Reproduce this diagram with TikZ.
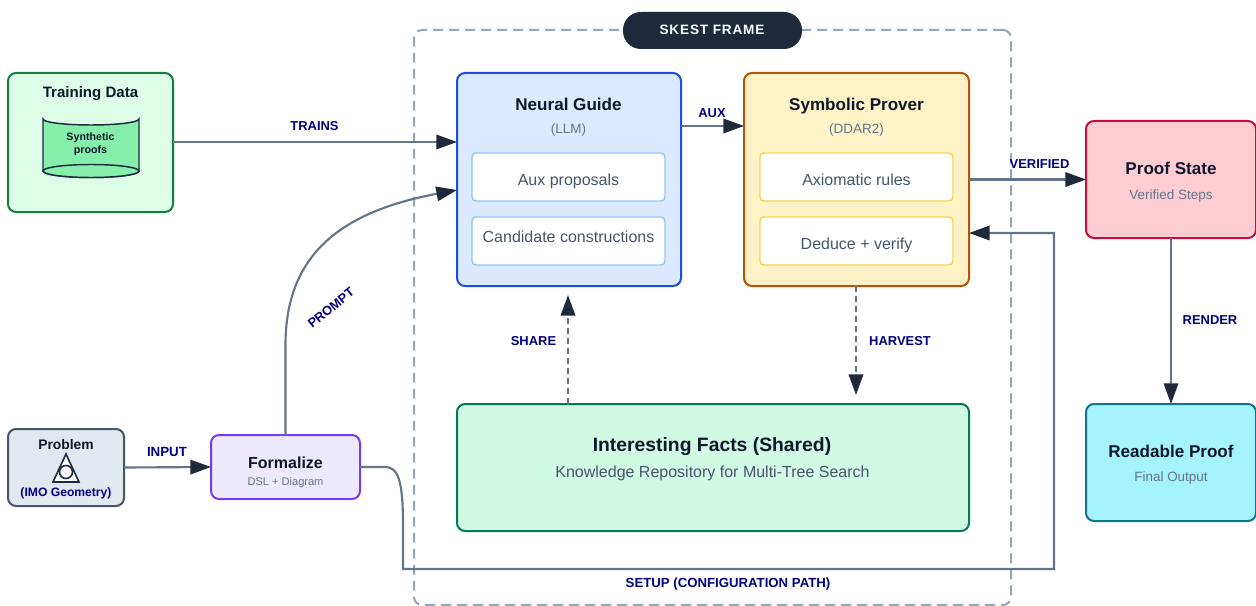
\documentclass[tikz,border=0pt]{standalone}
\usepackage{fontspec}
\setmainfont{Liberation Sans}
\newfontfamily\spacedfont[LetterSpace=6]{Liberation Sans}
\usetikzlibrary{arrows.meta,calc}
\def\pxu{0.75pt}
\definecolor{ink}{HTML}{0F172A}
\definecolor{sub}{HTML}{64748B}
\definecolor{body}{HTML}{475569}
\definecolor{navy}{HTML}{000080}
\definecolor{wire}{HTML}{64748B}
\definecolor{tipc}{HTML}{1E293B}
\definecolor{framec}{HTML}{94A3B8}
\tikzset{
  x=0.75pt,y=-0.75pt,
  box/.style={draw,line width=1.5pt,rounded corners=6pt,inner sep=0pt,outer sep=0pt,anchor=center},
  inner box/.style={draw,line width=1.1pt,rounded corners=3pt,fill=white,inner sep=0pt,outer sep=0pt,minimum width=193*\pxu,minimum height=48*\pxu},
  wire line/.style={draw=wire,line width=1.6pt,-{Triangle[length=15.5pt,width=10.8pt,color=tipc,fill=tipc]}},
  dashed wire/.style={wire line,line width=1.9pt,dash pattern=on 4.5pt off 3pt},
  txt/.style={inner sep=0pt,text height=0.72em,text depth=0.18em,yshift=-1.2pt},
  title big/.style={txt,font=\fontsize{14.5pt}{17pt}\selectfont\bfseries,text=ink},
  title/.style={txt,font=\fontsize{12.8pt}{15pt}\selectfont\bfseries,text=ink},
  subt/.style={txt,font=\fontsize{10.1pt}{11pt}\selectfont,text=sub},
  item/.style={txt,font=\fontsize{12pt}{13pt}\selectfont,text=body},
  lbl/.style={txt,font=\fontsize{9.7pt}{11pt}\selectfont\bfseries,text=navy},
}
\begin{document}
\begin{tikzpicture}
\useasboundingbox (0,0) rectangle (1256,606);
% frame
\node[box,draw=framec,dash pattern=on 7.5pt off 4.5pt,minimum width=597*\pxu,minimum height=575*\pxu] (frame) at (712.5,317.5) {};
\node[box,draw=none,fill=tipc,rounded corners=13.5pt,minimum width=179*\pxu,minimum height=37*\pxu] (pill) at (712.5,30.5) {};
\node[font=\fontsize{10.2pt}{12pt}\selectfont\spacedfont\bfseries,text=white,inner sep=0pt] (pilltext) at (712,30) {SKEST FRAME};
% boxes
\node[box,draw={rgb,255:red,21;green,128;blue,61},fill={rgb,255:red,220;green,252;blue,231},minimum width=165*\pxu,minimum height=139*\pxu] (training) at (90.5,142.5) {};
\node[box,draw={rgb,255:red,71;green,85;blue,105},fill={rgb,255:red,226;green,232;blue,240},minimum width=116*\pxu,minimum height=77*\pxu] (problem) at (66,467.5) {};
\node[box,draw={rgb,255:red,124;green,58;blue,237},fill={rgb,255:red,237;green,233;blue,254},minimum width=149*\pxu,minimum height=64*\pxu] (formalize) at (285.5,467) {};
\node[box,draw={rgb,255:red,29;green,78;blue,216},fill={rgb,255:red,219;green,234;blue,254},minimum width=224*\pxu,minimum height=213*\pxu] (neural) at (569,179.5) {};
\node[inner box,draw={rgb,255:red,147;green,197;blue,253}] (aux) at (568.5,177) {};
\node[inner box,draw={rgb,255:red,147;green,197;blue,253}] (cand) at (568.5,241) {};
\node[box,draw={rgb,255:red,180;green,83;blue,9},fill={rgb,255:red,254;green,243;blue,199},minimum width=225*\pxu,minimum height=213*\pxu] (symbolic) at (856.5,179.5) {};
\node[inner box,draw={rgb,255:red,252;green,211;blue,77}] (axiom) at (856.5,177) {};
\node[inner box,draw={rgb,255:red,252;green,211;blue,77}] (deduce) at (856.5,241) {};
\node[box,draw={rgb,255:red,190;green,18;blue,60},fill={rgb,255:red,254;green,205;blue,211},minimum width=170*\pxu,minimum height=117*\pxu] (proof) at (1171,179.5) {};
\node[box,draw={rgb,255:red,14;green,116;blue,144},fill={rgb,255:red,165;green,243;blue,252},minimum width=170*\pxu,minimum height=117*\pxu] (readable) at (1171,462.5) {};
\node[box,draw={rgb,255:red,4;green,120;blue,87},fill={rgb,255:red,209;green,250;blue,229},minimum width=512*\pxu,minimum height=127*\pxu] (facts) at (713,467.5) {};
% cylinder
\path[draw=tipc,line width=1.1pt,fill={rgb,255:red,134;green,239;blue,172}]
  (43,119) arc[start angle=180,end angle=0,x radius=48,y radius=6] -- (139,171) arc[start angle=0,end angle=180,x radius=48,y radius=6.5] -- cycle;
\path[draw=tipc,line width=1.1pt,fill={rgb,255:red,134;green,239;blue,172}] (91,171) ellipse[x radius=48,y radius=6.5];
% triangle icon
\path[draw=tipc,line width=1.2pt,fill=white] (66,454) -- (79,482) -- (53,482) -- cycle;
\path[draw=tipc,line width=1.2pt,fill=white] (66,472) circle[radius=6.5];
% free ends
\coordinate (shareend) at (568,295);
\coordinate (harvestend) at (856,395);
\coordinate (trainsy) at (0,142);
\coordinate (prompty) at (0,190);
\coordinate (auxy) at (0,126);
\coordinate (backy) at (0,233);
% connectors
\draw[wire line] (training.east |- trainsy) -- (neural.west |- trainsy);
\draw[wire line] (problem.east) -- (formalize.west);
\draw[wire line] (formalize.north) -- (285.5,345) .. controls (285.5,255) and (340,212) .. (neural.west |- prompty);
\draw[wire line] (neural.east |- auxy) -- (symbolic.west |- auxy);
\draw[wire line] (symbolic.east) -- (proof.west);
\draw[wire line] (proof.south) -- (readable.north);
\draw[dashed wire] (facts.north -| shareend) -- (shareend);
\draw[dashed wire] (symbolic.south -| harvestend) -- (harvestend);
\draw[wire line] (formalize.east) -- (385,467) .. controls (398,467) and (403,480) .. (403,525) -- (403,569) -- (1054,569) -- (1054,233) -- (symbolic.east |- backy);
% text
\node[title,font=\fontsize{11.3pt}{13pt}\selectfont\bfseries] (t1) at (90.5,92.6) {Training Data};
\node[font=\fontsize{8pt}{9.4pt}\selectfont\bfseries,text=ink,align=center,inner sep=0pt] (t2) at (90.5,144.5) {Synthetic\\proofs};
\node[title,font=\fontsize{10.4pt}{12pt}\selectfont\bfseries] (t3) at (66,444.2) {Problem};
\node[txt,font=\fontsize{9.1pt}{10pt}\selectfont\bfseries,text=navy] (t4) at (66,491.7) {(IMO Geometry)};
\node[title,font=\fontsize{12pt}{13pt}\selectfont\bfseries] (t5) at (285.5,463.4) {Formalize};
\node[subt,font=\fontsize{8.3pt}{10pt}\selectfont] (t6) at (285.5,480.3) {DSL + Diagram};
\node[title] (t7) at (568.5,105) {Neural Guide};
\node[subt] (t8) at (568.5,128) {(LLM)};
\node[item] (t9) at (568.5,180.7) {Aux proposals};
\node[item] (t10) at (568.5,237.4) {Candidate constructions};
\node[title] (t11) at (856.5,105) {Symbolic Prover};
\node[subt] (t12) at (856.5,128) {(DDAR2)};
\node[item] (t13) at (856.5,180.7) {Axiomatic rules};
\node[item] (t14) at (856.5,244.7) {Deduce + verify};
\node[title] (t15) at (1171,169.4) {Proof State};
\node[subt] (t16) at (1171,194) {Verified Steps};
\node[title] (t17) at (1171,452) {Readable Proof};
\node[subt] (t18) at (1171,476.3) {Final Output};
\node[title big] (t19) at (712,446.5) {Interesting Facts (Shared)};
\node[item] (t20) at (712.5,472.5) {Knowledge Repository for Multi-Tree Search};
\node[lbl] (l1) at (314.5,125.5) {TRAINS};
\node[lbl,font=\fontsize{10pt}{11pt}\selectfont\bfseries] (l2) at (167,451.5) {INPUT};
\node[lbl,rotate=39] (l3) at (331.5,307) {PROMPT};
\node[lbl] (l4) at (712,112.2) {AUX};
\node[lbl] (l5) at (1039.5,163.2) {VERIFIED};
\node[lbl] (l6) at (1210,319.5) {RENDER};
\node[lbl] (l7) at (533.5,340.5) {SHARE};
\node[lbl] (l8) at (900,340.5) {HARVEST};
\node[lbl,font=\fontsize{9.9pt}{11pt}\selectfont\bfseries] (l9) at (728,582.5) {SETUP (CONFIGURATION PATH)};
\end{tikzpicture}
\end{document}
